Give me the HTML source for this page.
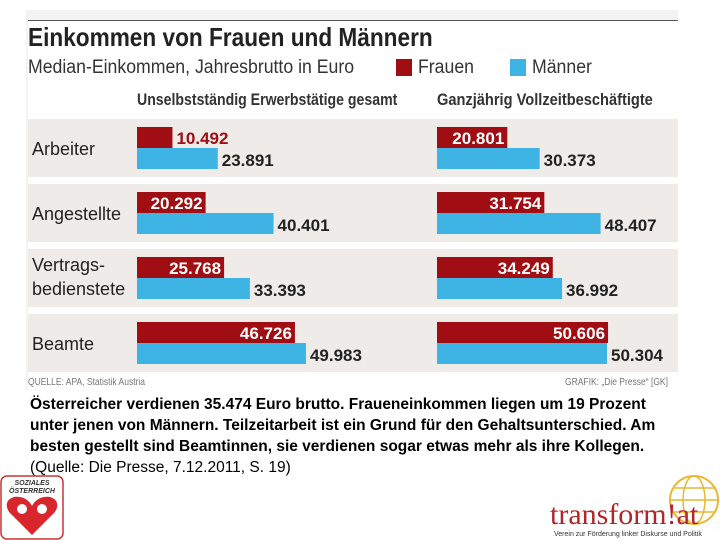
<!DOCTYPE html>
<html><head><meta charset="utf-8"><style>
body{margin:0;width:720px;height:540px;background:#fff;position:relative;overflow:hidden;font-family:"Liberation Sans",sans-serif}
.n{font-family:"Liberation Sans Narrow","Liberation Sans",sans-serif;transform-origin:0 0;white-space:nowrap}
.abs{position:absolute}
</style></head><body>
<div class="abs" style="left:26px;top:10px;width:652px;height:380px;background:#f3f3f3"></div>
<div class="abs" style="left:28px;top:20px;width:650px;height:370px;background:#fff;border-top:1px solid #555"></div>
<div class="abs n" style="left:28px;top:22px;font-size:26px;font-weight:bold;color:#222;transform:scaleX(0.87)">Einkommen von Frauen und Männern</div>
<div class="abs n" style="left:28px;top:57px;font-size:19px;color:#333;transform:scaleX(0.93)">Median-Einkommen, Jahresbrutto in Euro</div>
<div class="abs" style="left:396px;top:59px;width:16px;height:17px;background:#a00d12"></div>
<div class="abs n" style="left:418px;top:57px;font-size:19px;color:#333;transform:scaleX(0.93)">Frauen</div>
<div class="abs" style="left:510px;top:59px;width:16px;height:17px;background:#3db4e3"></div>
<div class="abs n" style="left:532px;top:57px;font-size:19px;color:#333;transform:scaleX(0.93)">Männer</div>
<div class="abs n" style="left:137px;top:90px;font-size:17px;font-weight:bold;color:#333;transform:scaleX(0.83)">Unselbstständig Erwerbstätige gesamt</div>
<div class="abs n" style="left:437px;top:90px;font-size:17px;font-weight:bold;color:#333;transform:scaleX(0.86)">Ganzjährig Vollzeitbeschäftigte</div>
<svg id="chart" class="abs" style="left:0;top:0" width="720" height="400"></svg>
<div class="abs n" style="left:28px;top:377px;font-size:10px;color:#777;transform:scaleX(0.85)">QUELLE: APA, Statistik Austria</div>
<div class="abs n" style="left:565px;top:377px;font-size:10px;color:#777;transform:scaleX(0.85)">GRAFIK: „Die Presse“ [GK]</div>
<div class="abs" style="left:30px;top:394px;font-size:15.5px;line-height:21px;color:#000;white-space:nowrap">
<div style="font-weight:bold">Österreicher verdienen 35.474 Euro brutto. Fraueneinkommen liegen um 19 Prozent</div>
<div style="font-weight:bold">unter jenen von Männern. Teilzeitarbeit ist ein Grund für den Gehaltsunterschied. Am</div>
<div style="font-weight:bold">besten gestellt sind Beamtinnen, sie verdienen sogar etwas mehr als ihre Kollegen.</div>
<div>(Quelle: Die Presse, 7.12.2011, S. 19)</div></div>
<svg class="abs" style="left:0;top:475px" width="66" height="65">
<rect x="1" y="1" width="62" height="63" rx="6" fill="#fff" stroke="#c33" stroke-width="1.5"/>
<text x="32" y="10" font-size="7" font-weight="bold" font-style="italic" text-anchor="middle" fill="#333">SOZIALES</text>
<text x="32" y="18" font-size="7" font-weight="bold" font-style="italic" text-anchor="middle" fill="#333">ÖSTERREICH</text>
<path d="M32 60 L10 38 C2 28 10 20 20 22 C26 23 30 27 32 31 C34 27 38 23 44 22 C54 20 62 28 54 38 Z" fill="#d8262c"/>
<circle cx="22" cy="34" r="5" fill="#fff"/><circle cx="42" cy="34" r="5" fill="#fff"/>
</svg>
<svg class="abs" style="left:548px;top:472px" width="172" height="68">
<circle cx="146" cy="28" r="24" fill="none" stroke="#e8b830" stroke-width="2"/>
<ellipse cx="146" cy="28" rx="11" ry="24" fill="none" stroke="#e8b830" stroke-width="1.5"/>
<line x1="122" y1="28" x2="170" y2="28" stroke="#e8b830" stroke-width="1.5"/>
<line x1="126" y1="16" x2="166" y2="16" stroke="#e8b830" stroke-width="1.5"/>
<line x1="126" y1="40" x2="166" y2="40" stroke="#e8b830" stroke-width="1.5"/>
<text x="2" y="52" font-family="Liberation Serif,serif" font-size="30" fill="#b2262a">transform!at</text>
<text x="6" y="64" font-size="7" fill="#333">Verein zur Förderung linker Diskurse und Politik</text>
</svg>
<script>
const categories=["Arbeiter","Angestellte","Vertrags-|bedienstete","Beamte"];
const frauenGesamt=[10492,20292,25768,46726];
const maennerGesamt=[23891,40401,33393,49983];
const frauenVollzeit=[20801,31754,34249,50606];
const maennerVollzeit=[30373,48407,36992,50304];
const svg=document.getElementById('chart');
const NS='http://www.w3.org/2000/svg';
const k=0.00338;
const fmt=v=>(v/1000).toFixed(3);
function xs(v){return v*k;}
function mk(t,a){const e=document.createElementNS(NS,t);for(const q in a)e.setAttribute(q,a[q]);svg.appendChild(e);return e;}
categories.forEach((c,i)=>{
 const top=119+i*65;
 const band=mk('rect',{x:28,y:top,width:650,height:58,fill:'#efebe8'});
 
 
 const parts=c.split('|');
 parts.forEach((p,j)=>{
  const t=mk('text',{x:32,y:top+(parts.length>1?22+j*24:36),'font-size':18,'font-family':'Liberation Sans Narrow, Liberation Sans, sans-serif',fill:'#222'});
  t.textContent=p;
  
  
 });
 [[137,frauenGesamt[i],maennerGesamt[i],i===0],[437,frauenVollzeit[i],maennerVollzeit[i],false]].forEach(([x0,f,m,outside])=>{
  const r=mk('rect',{x:x0,y:top+8,width:xs(f),height:21,fill:'#a00d12'});
  
  
  const b=mk('rect',{x:x0,y:top+29,width:xs(m),height:21,fill:'#3db4e3'});
  
  
  const tf=mk('text',{x:outside?x0+xs(f)+4:x0+xs(f)-3,y:top+25,'font-size':17,'font-weight':'bold','text-anchor':outside?'start':'end','font-family':'Liberation Sans Narrow, Liberation Sans, sans-serif',fill:outside?'#a00d12':'#fff'});
  tf.textContent=fmt(f);
  
  
  const tm=mk('text',{x:x0+xs(m)+4,y:top+47,'font-size':17,'font-weight':'bold','font-family':'Liberation Sans Narrow, Liberation Sans, sans-serif',fill:'#222'});
  tm.textContent=fmt(m);
  
  
 });
});
</script>
</body></html>
